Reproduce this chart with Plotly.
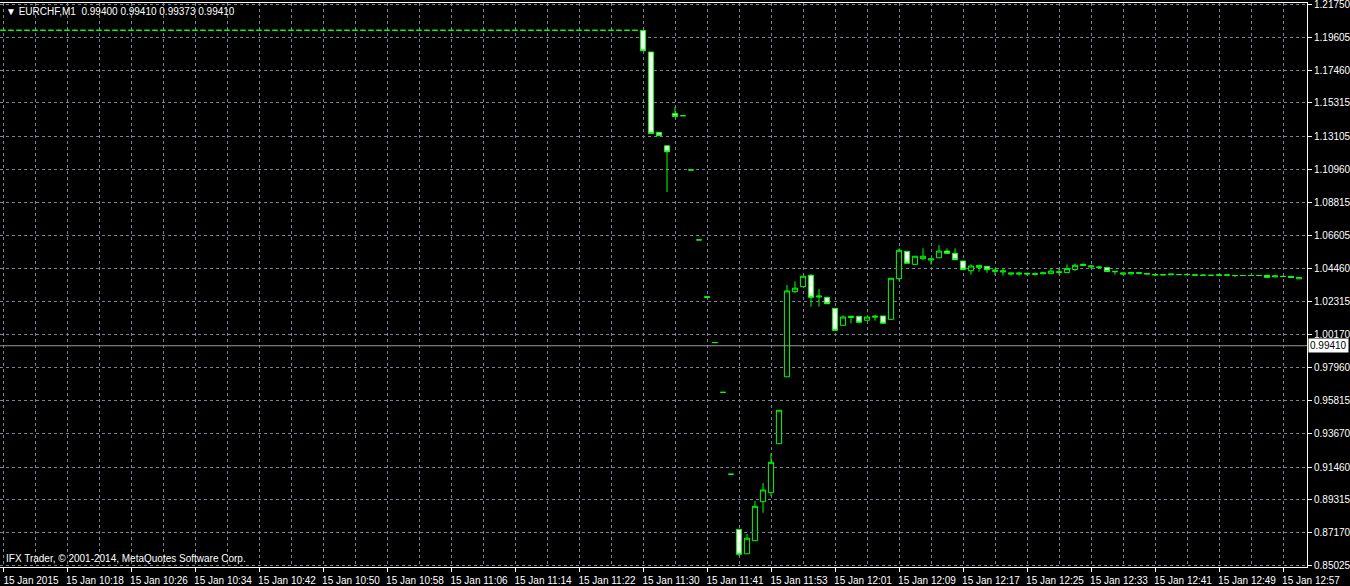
import plotly.graph_objects as go

# ---------------- data ----------------
symbol_header = "▼ EURCHF,M1  0.99400 0.99410 0.99373 0.99410"
credit_text = "IFX Trader, © 2001-2014, MetaQuotes Software Corp."
bid_price = 0.99410

# bars 0..79 (10:10 - 11:29): flat pre-announcement bars near the floor
pre_close = [
    1.2006, 1.2006, 1.2006, 1.2006, 1.2006, 1.2006, 1.2006, 1.2006, 1.2006, 1.2006,
    1.2006, 1.2006, 1.2006, 1.2006, 1.2006, 1.2006, 1.2006, 1.2006, 1.2006, 1.2006,
    1.2006, 1.2006, 1.2006, 1.2006, 1.2006, 1.2006, 1.2006, 1.2006, 1.2006, 1.2006,
    1.2006, 1.2006, 1.2006, 1.2006, 1.2006, 1.2006, 1.2006, 1.2006, 1.2006, 1.2006,
    1.2006, 1.2006, 1.2006, 1.2006, 1.2006, 1.2006, 1.2006, 1.2006, 1.2006, 1.2006,
    1.2006, 1.2006, 1.2006, 1.2006, 1.2006, 1.2006, 1.2006, 1.2006, 1.2006, 1.2006,
    1.2006, 1.2006, 1.2006, 1.2006, 1.2006, 1.2006, 1.2006, 1.2006, 1.2006, 1.2006,
    1.2006, 1.2006, 1.2006, 1.2006, 1.2006, 1.2006, 1.2006, 1.2006, 1.2006, 1.2006,
]

# bars 80..162
post_open = [
    1.2005, 1.1864, 1.1338, 1.1250, 1.1461, 1.1447, 1.1092, 1.0634, 1.0262, 0.9962,
    0.9636, 0.9100, 0.8739, 0.8579, 0.8665, 0.8920, 0.8979, 0.9300, 0.9738, 1.0295,
    1.0328, 1.0402, 1.0260, 1.0258, 1.0186, 1.0075, 1.0126, 1.0134, 1.0108, 1.0128,
    1.0136, 1.0114, 1.0380, 1.0559, 1.0474, 1.0511, 1.0502, 1.0517, 1.0561, 1.0546,
    1.0496, 1.0432, 1.0452, 1.0461, 1.0428, 1.0424, 1.0410, 1.0410, 1.0410, 1.0408,
    1.0412, 1.0413, 1.0421, 1.0420, 1.0440, 1.0466, 1.0457, 1.0452, 1.0453, 1.0425,
    1.0410, 1.0412, 1.0415, 1.0410, 1.0404, 1.0404, 1.0406, 1.0407, 1.0407, 1.0402,
    1.0402, 1.0402, 1.0402, 1.0402, 1.0400, 1.0401, 1.0401, 1.0401, 1.0402, 1.0392,
    1.0395, 1.0395, 1.0379,
]
post_high = [
    1.2007, 1.1864, 1.1338, 1.1250, 1.1505, 1.1447, 1.1092, 1.0634, 1.0265, 0.9962,
    0.9636, 0.9100, 0.8739, 0.8709, 0.8925, 0.9043, 0.9237, 0.9519, 1.0339, 1.0363,
    1.0396, 1.0411, 1.0313, 1.0258, 1.0186, 1.0140, 1.0134, 1.0134, 1.0129, 1.0142,
    1.0136, 1.0383, 1.0579, 1.0559, 1.0527, 1.0579, 1.0510, 1.0600, 1.0579, 1.0579,
    1.0496, 1.0474, 1.0467, 1.0461, 1.0448, 1.0448, 1.0417, 1.0426, 1.0416, 1.0420,
    1.0426, 1.0446, 1.0446, 1.0474, 1.0479, 1.0478, 1.0468, 1.0464, 1.0453, 1.0428,
    1.0420, 1.0421, 1.0419, 1.0413, 1.0407, 1.0407, 1.0413, 1.0407, 1.0413, 1.0405,
    1.0409, 1.0402, 1.0405, 1.0405, 1.0401, 1.0401, 1.0401, 1.0401, 1.0402, 1.0402,
    1.0395, 1.0395, 1.0388,
]
post_low = [
    1.1872, 1.1330, 1.1316, 1.0947, 1.1442, 1.1447, 1.1092, 1.0634, 1.0255, 0.9962,
    0.9636, 0.9100, 0.8565, 0.8579, 0.8665, 0.8848, 0.8958, 0.9300, 0.9738, 1.0287,
    1.0328, 1.0197, 1.0197, 1.0216, 1.0042, 1.0075, 1.0088, 1.0088, 1.0108, 1.0105,
    1.0088, 1.0114, 1.0367, 1.0481, 1.0474, 1.0502, 1.0472, 1.0517, 1.0546, 1.0504,
    1.0439, 1.0406, 1.0426, 1.0419, 1.0404, 1.0400, 1.0400, 1.0400, 1.0400, 1.0400,
    1.0412, 1.0413, 1.0406, 1.0420, 1.0431, 1.0466, 1.0446, 1.0446, 1.0427, 1.0406,
    1.0406, 1.0406, 1.0415, 1.0410, 1.0398, 1.0404, 1.0406, 1.0407, 1.0407, 1.0402,
    1.0402, 1.0402, 1.0402, 1.0402, 1.0390, 1.0401, 1.0401, 1.0401, 1.0389, 1.0392,
    1.0395, 1.0388, 1.0379,
]
post_close = [
    1.1872, 1.1330, 1.1316, 1.1211, 1.1442, 1.1447, 1.1092, 1.0634, 1.0258, 0.9962,
    0.9636, 0.9100, 0.8576, 0.8681, 0.8890, 0.8997, 0.9178, 0.9519, 1.0300, 1.0318,
    1.0396, 1.0258, 1.0266, 1.0216, 1.0042, 1.0129, 1.0134, 1.0095, 1.0129, 1.0134,
    1.0088, 1.0383, 1.0566, 1.0481, 1.0527, 1.0527, 1.0510, 1.0561, 1.0546, 1.0504,
    1.0439, 1.0463, 1.0467, 1.0439, 1.0436, 1.0431, 1.0417, 1.0416, 1.0415, 1.0412,
    1.0418, 1.0430, 1.0425, 1.0446, 1.0468, 1.0474, 1.0463, 1.0456, 1.0427, 1.0428,
    1.0417, 1.0421, 1.0419, 1.0413, 1.0407, 1.0407, 1.0410, 1.0407, 1.0407, 1.0405,
    1.0403, 1.0402, 1.0405, 1.0405, 1.0401, 1.0401, 1.0401, 1.0401, 1.0389, 1.0398,
    1.0395, 1.0388, 1.0388,
]

time_tick_labels = [
    "15 Jan 2015", "15 Jan 10:18", "15 Jan 10:26", "15 Jan 10:34", "15 Jan 10:42",
    "15 Jan 10:50", "15 Jan 10:58", "15 Jan 11:06", "15 Jan 11:14", "15 Jan 11:22",
    "15 Jan 11:30", "15 Jan 11:41", "15 Jan 11:53", "15 Jan 12:01", "15 Jan 12:09",
    "15 Jan 12:17", "15 Jan 12:25", "15 Jan 12:33", "15 Jan 12:41", "15 Jan 12:49",
    "15 Jan 12:57",
]
price_tick_labels = [
    1.21750, 1.19605, 1.17460, 1.15315, 1.13105, 1.10960, 1.08815, 1.06605, 1.04460,
    1.02315, 1.00170, 0.97960, 0.95815, 0.93670, 0.91460, 0.89315, 0.87170, 0.85025,
]

# ---------------- build ----------------
opens = pre_close + post_open
highs = pre_close + post_high
lows = pre_close + post_low
closes = pre_close + post_close
bar_index = list(range(len(closes)))

LABEL_STEP = 8   # bars per time label
GRID_STEP = 4    # bars per vertical grid line
tick_positions = [i * LABEL_STEP for i in range(len(time_tick_labels))]
minor_positions = [p + GRID_STEP for p in tick_positions]

GREEN = "#00FF00"
GRID = "#788493"
FONT = "Liberation Sans"

fig = go.Figure()
fig.add_trace(go.Candlestick(
    x=bar_index, open=opens, high=highs, low=lows, close=closes,
    increasing=dict(line=dict(color=GREEN, width=1), fillcolor="#000000"),
    decreasing=dict(line=dict(color=GREEN, width=1), fillcolor="#FFFFFF"),
    whiskerwidth=0, hoverinfo="skip", showlegend=False,
))

fig.add_shape(type="line", xref="paper", x0=0, x1=1, yref="y",
              y0=bid_price, y1=bid_price, line=dict(color="#9A9A9A", width=1))

fig.add_annotation(xref="paper", x=1, xanchor="left", xshift=1, yref="y", y=bid_price,
                   text=f"{bid_price:.5f}", showarrow=False, bgcolor="#FFFFFF",
                   font=dict(family=FONT, size=10, color="#000000"), borderpad=1)

fig.add_annotation(xref="paper", x=0, xanchor="left", xshift=4, yref="paper", y=1,
                   yanchor="top", yshift=-1, text=symbol_header, showarrow=False,
                   font=dict(family=FONT, size=10, color="#FFFFFF"))
fig.add_annotation(xref="paper", x=0, xanchor="left", xshift=4, yref="paper", y=0,
                   yanchor="bottom", yshift=1, text=credit_text, showarrow=False,
                   font=dict(family=FONT, size=10, color="#FFFFFF"))

fig.update_layout(
    width=1350, height=586,
    paper_bgcolor="#000000", plot_bgcolor="#000000",
    margin=dict(l=0, r=43, t=3, b=19, autoexpand=False),
    boxgap=0.35, boxgroupgap=0,
    font=dict(family=FONT, size=10, color="#FFFFFF"),
    xaxis=dict(
        range=[-0.375, 163.0], rangeslider=dict(visible=False),
        tickmode="array", tickvals=tick_positions, ticktext=time_tick_labels,
        ticks="outside", ticklen=4, tickcolor="#FFFFFF", ticklabelshift=28,
        ticklabelstandoff=0, ticklabeloverflow="allow",
        showgrid=True, gridcolor=GRID, griddash="3px,3px", gridwidth=1,
        minor=dict(tickmode="array", tickvals=minor_positions, showgrid=True,
                   gridcolor=GRID, griddash="3px,3px", gridwidth=1, ticks=""),
        showline=True, linecolor="#FFFFFF", linewidth=1, mirror=True,
        zeroline=False, tickfont=dict(family=FONT, size=10, color="#FFFFFF"),
    ),
    yaxis=dict(
        side="right", range=[0.84927, 1.21848],
        tickmode="array", tickvals=price_tick_labels,
        ticktext=[f"{v:.5f}" for v in price_tick_labels],
        ticks="outside", ticklen=4, tickcolor="#FFFFFF", ticklabeloverflow="allow",
        showgrid=True, gridcolor=GRID, griddash="3px,3px", gridwidth=1,
        showline=True, linecolor="#FFFFFF", linewidth=1,
        zeroline=False, tickfont=dict(family=FONT, size=10, color="#FFFFFF"),
    ),
)

fig.write_html(
    "out.html",
    config={"displayModeBar": False},
    post_script="document.body.style.margin='0';document.body.style.overflow='hidden';",
)
